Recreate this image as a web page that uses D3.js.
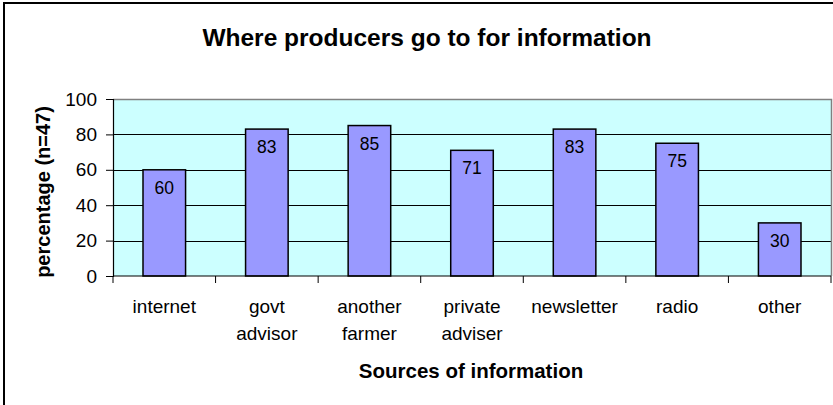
<!DOCTYPE html>
<html>
<head>
<meta charset="utf-8">
<script src="https://cdn.jsdelivr.net/npm/d3@7"></script>
<style>
  html, body { margin: 0; padding: 0; background: #fff; }
  svg { display: block; font-family: "Liberation Sans", Arial, Helvetica, sans-serif; }
</style>
</head>
<body>
<svg id="chart" width="833" height="405"></svg>
<script>
// Survey results: share of producers using each information source
const categories = ["internet", "govt advisor", "another farmer", "private adviser", "newsletter", "radio", "other"];
const categoryLines = [["internet"], ["govt", "advisor"], ["another", "farmer"], ["private", "adviser"], ["newsletter"], ["radio"], ["other"]];
const values = [60, 83, 85, 71, 83, 75, 30];
const yTicks = [0, 20, 40, 60, 80, 100];

const chartTitle = "Where producers go to for information";
const xTitle = "Sources of information";
const yTitle = "percentage (n=47)";

const svg = d3.select("#chart");
const plot = { left: 113, right: 831, top: 99, bottom: 276 };

// Outer chart frame (extends past the right and bottom edges)
svg.append("rect")
  .attr("x", 4).attr("y", 3)
  .attr("width", 840).attr("height", 420)
  .attr("fill", "#fff").attr("stroke", "#000").attr("stroke-width", 2);

const x = d3.scaleBand()
  .domain(categories)
  .range([plot.left, plot.right])
  .paddingInner(0.585)
  .paddingOuter(0.2925);

const y = d3.scaleLinear()
  .domain([0, 100])
  .range([plot.bottom, plot.top]);

// Plot area background
svg.append("rect")
  .attr("x", plot.left).attr("y", plot.top)
  .attr("width", plot.right - plot.left).attr("height", plot.bottom - plot.top)
  .attr("fill", "#CCFFFF");

// Horizontal gridlines
svg.append("g")
  .selectAll("line")
  .data(yTicks.filter(t => t > 0 && t < 100))
  .join("line")
  .attr("x1", plot.left).attr("x2", plot.right)
  .attr("y1", d => Math.round(y(d)) + 0.5).attr("y2", d => Math.round(y(d)) + 0.5)
  .attr("stroke", "#000").attr("stroke-width", 1);

// Plot area border (top and right)
svg.append("path")
  .attr("d", `M${plot.left},${plot.top + 0.5}H${plot.right + 0.5}V${plot.bottom}`)
  .attr("fill", "none").attr("stroke", "#808080").attr("stroke-width", 1.5);

// Bars
svg.append("g")
  .selectAll("rect")
  .data(values)
  .join("rect")
  .attr("x", (d, i) => x(categories[i]))
  .attr("y", d => y(d))
  .attr("width", x.bandwidth())
  .attr("height", d => y(0) - y(d))
  .attr("fill", "#9999FF")
  .attr("stroke", "#000").attr("stroke-width", 1.5);

// Value labels inside bar tops
svg.append("g")
  .selectAll("text")
  .data(values)
  .join("text")
  .attr("x", (d, i) => x(categories[i]) + x.bandwidth() / 2)
  .attr("y", d => y(d) + 24)
  .attr("text-anchor", "middle")
  .attr("font-size", 17.5)
  .attr("fill", "#000")
  .text(d => d);

// Y axis
const yAxis = d3.axisLeft(y).tickValues(yTicks).tickSize(7).tickPadding(9);
const yG = svg.append("g")
  .attr("transform", `translate(${plot.left},0)`)
  .call(yAxis);
yG.select(".domain").attr("stroke", "#000").attr("stroke-width", 1.2);
yG.selectAll(".tick line").attr("stroke", "#000");
yG.selectAll(".tick text")
  .attr("font-size", 19).attr("fill", "#000")
  .attr("font-family", "Liberation Sans, Arial, sans-serif");

// X axis with category separators
const xAxisG = svg.append("g");
xAxisG.append("line")
  .attr("x1", plot.left).attr("x2", plot.right)
  .attr("y1", plot.bottom).attr("y2", plot.bottom)
  .attr("stroke", "#000").attr("stroke-width", 1.2);
const step = x.step();
xAxisG.selectAll("line.sep")
  .data(d3.range(categories.length + 1))
  .join("line")
  .attr("class", "sep")
  .attr("x1", i => plot.left + i * step).attr("x2", i => plot.left + i * step)
  .attr("y1", plot.bottom).attr("y2", plot.bottom + 7)
  .attr("stroke", "#000");

// Category labels (multi-line)
const labelG = svg.append("g");
categoryLines.forEach((lines, i) => {
  const cx = x(categories[i]) + x.bandwidth() / 2;
  const t = labelG.append("text")
    .attr("text-anchor", "middle")
    .attr("font-size", 19)
    .attr("fill", "#000");
  lines.forEach((ln, j) => {
    t.append("tspan").attr("x", cx).attr("y", 313 + j * 27).text(ln);
  });
});

// Titles
svg.append("text")
  .attr("x", 427).attr("y", 46)
  .attr("text-anchor", "middle")
  .attr("font-size", 24.5).attr("font-weight", "bold")
  .text(chartTitle);

svg.append("text")
  .attr("x", 471).attr("y", 378)
  .attr("text-anchor", "middle")
  .attr("font-size", 20.5).attr("font-weight", "bold")
  .text(xTitle);

svg.append("text")
  .attr("transform", "translate(50,192) rotate(-90)")
  .attr("text-anchor", "middle")
  .attr("font-size", 20).attr("font-weight", "bold")
  .text(yTitle);
</script>
</body>
</html>
